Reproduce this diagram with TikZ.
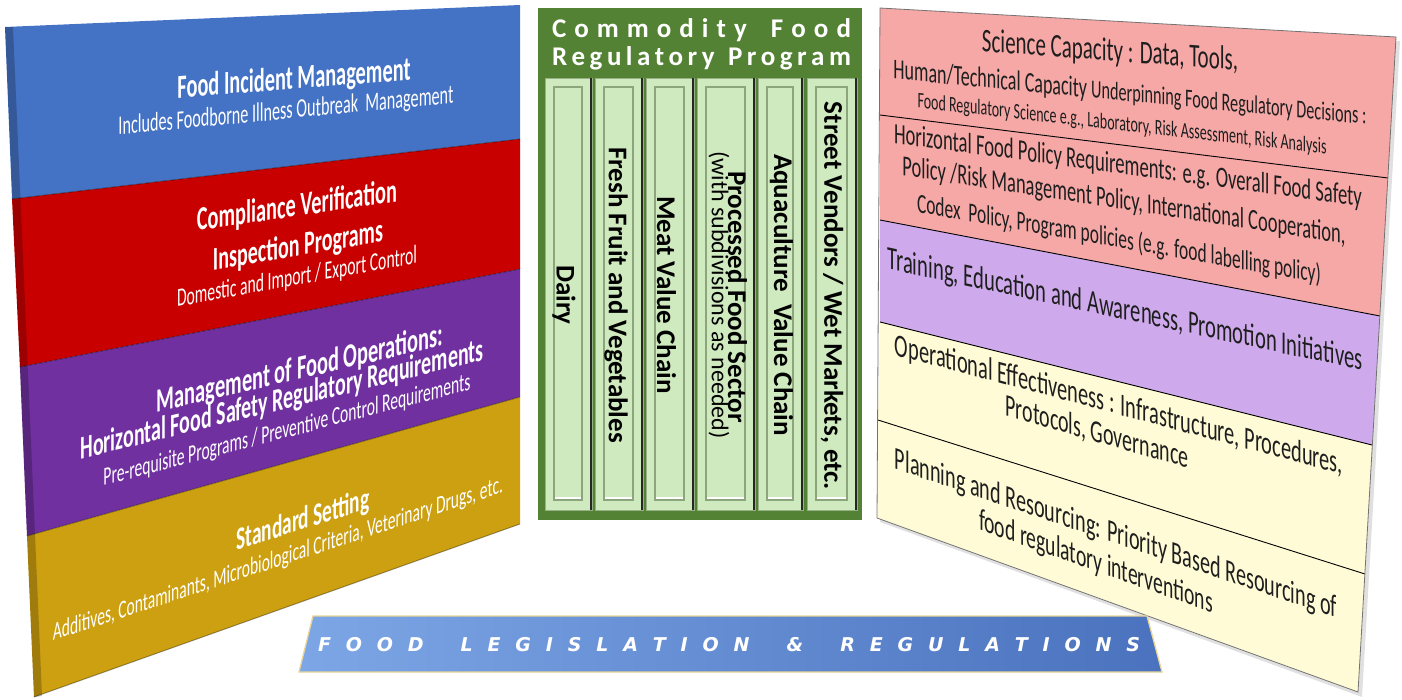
\documentclass[tikz,border=0pt]{standalone}
\usepackage{fontspec}
\usepackage{graphicx}
\setmainfont{Carlito}
\newfontfamily\banfont{DejaVu Sans}
\newcommand\fitw[2]{\resizebox{#1pt}{!}{#2}}
\newcommand\hf{\hfill}
\newcommand\wg{\hfill\hfill\hskip 0pt plus 0.5fill\relax}
\definecolor{lblue}{RGB}{68,114,196}
\definecolor{lred}{RGB}{200,0,0}
\definecolor{lpurple}{RGB}{112,48,160}
\definecolor{lgold}{RGB}{204,160,16}
\definecolor{cgreen}{RGB}{84,130,53}
\definecolor{cpale}{RGB}{208,234,192}
\definecolor{cedge}{RGB}{150,176,136}
\definecolor{cinner}{RGB}{140,165,125}
\definecolor{rpink}{RGB}{246,168,166}
\definecolor{rlav}{RGB}{206,170,236}
\definecolor{ryel}{RGB}{255,251,214}
\definecolor{rtxt}{RGB}{30,30,30}
\definecolor{bnl}{RGB}{125,166,230}
\definecolor{bnr}{RGB}{74,114,190}
\definecolor{bnedge}{RGB}{232,214,150}
\tikzset{
  ltext/.style={inner sep=0pt, text=white, yslant=#1, yscale=1.65},
  rtext/.style={inner sep=0pt, text=rtxt, yslant=-#1, yscale=1.58},
  coltxt/.style={rotate=-90, inner sep=0pt, text=black},
  sep/.style={black, line width=0.9pt},
}
\begin{document}
\begin{tikzpicture}[x=1pt,y=-1pt]
\useasboundingbox (0,0) rectangle (1402,699);

% ---------- left panel ----------
\fill[lblue]   (5,27) -- (520,5) -- (520,139) -- (12,199) -- cycle;
\fill[lred]    (12,199) -- (520,139) -- (520,269) -- (20,367) -- cycle;
\fill[lpurple] (20,367) -- (520,269) -- (520,397) -- (27,536) -- cycle;
\fill[lgold]   (27,536) -- (520,397) -- (520,524) -- (34,697) -- cycle;
\fill[black,opacity=.22] (5,27) -- (13,27) -- (42,696) -- (34,697) -- cycle;
\draw[black,opacity=.35,line width=1pt] (12,199) -- (520,139);
\draw[black,opacity=.35,line width=1pt] (20,367) -- (520,269);
\draw[black,opacity=.35,line width=1pt] (27,536) -- (520,397);
\draw[black,opacity=.35,line width=1pt] (34,697) -- (520,524);

\node[shift={(294,80)},  ltext=0.078] (l1)  {\fitw{233}{\bfseries Food Incident Management}};
\node[shift={(286,112)}, ltext=0.094] (l2)  {\fitw{335}{Includes Foodborne Illness Outbreak\ \ Management}};
\node[shift={(297,207)}, ltext=0.145] (l3)  {\fitw{200}{\bfseries Compliance Verification}};
\node[shift={(298,247)}, ltext=0.167] (l4)  {\fitw{170}{\bfseries Inspection Programs}};
\node[shift={(297,278)}, ltext=0.183] (l5)  {\fitw{240}{Domestic and Import / Export Control}};
\node[shift={(300,370)}, ltext=0.233] (l6)  {\fitw{286}{\bfseries Management of Food Operations:}};
\node[shift={(282,401)}, ltext=0.246] (l7)  {\fitw{403}{\bfseries Horizontal Food Safety Regulatory Requirements}};
\node[shift={(287,431)}, ltext=0.262] (l8)  {\fitw{367}{Pre-requisite Programs / Preventive Control Requirements}};
\node[shift={(303,521)}, ltext=0.314] (l9)  {\fitw{133}{\bfseries Standard Setting}};
\node[shift={(278,560)}, ltext=0.330] (l10) {\fitw{450}{Additives, Contaminants, Microbiological Criteria, Veterinary Drugs, etc.}};

% ---------- middle panel ----------
\fill[cgreen] (538,8) rectangle (862,520);
\node[text=white, inner sep=0pt, font=\bfseries\fontsize{27}{28}\selectfont] (m1) at (701.5,30)
  {\makebox[299pt][s]{C\hf o\hf m\hf m\hf o\hf d\hf i\hf t\hf y\hf\hf\hf F\hf o\hf o\hf d}};
\node[text=white, inner sep=0pt, font=\bfseries\fontsize{27}{28}\selectfont] (m2) at (701.5,58)
  {\makebox[299pt][s]{R\hf e\hf g\hf u\hf l\hf a\hf t\hf o\hf r\hf y\hf\hf\hf P\hf r\hf o\hf g\hf r\hf a\hf m}};
\foreach \a/\b in {545/592, 595/643, 646/694, 697/755, 758/803, 807/857}{
  \fill[cpale] (\a,78) rectangle (\b,510);
  \draw[cedge, line width=0.8pt] (\a,78) rectangle (\b,510);
  \fill[black!85] ({\b-2.2},78) rectangle (\b,510);
  \draw[cinner, line width=1.2pt] ({\a+9},87) rectangle ({\b-10},500);
  \draw[white, line width=1.5pt] ({\a+10},498) -- ({\b-11},498);
}
\node[coltxt, font=\bfseries\fontsize{27}{30}\selectfont] (c1) at (564,295) {Dairy};
\node[coltxt, font=\bfseries\fontsize{27}{30}\selectfont] (c2) at (616,295) {Fresh Fruit and Vegetables};
\node[coltxt, font=\bfseries\fontsize{27}{30}\selectfont] (c3) at (666.5,295) {Meat Value Chain};
\node[coltxt, font=\bfseries\fontsize{27}{30}\selectfont] (c4a) at (737.5,297) {Processed Food Sector};
\node[coltxt, font=\fontsize{24}{26}\selectfont] (c4b) at (719,295) {(with subdivisions as needed)};
\node[coltxt, font=\bfseries\fontsize{27}{30}\selectfont] (c5) at (781.5,295) {Aquaculture\ \ Value Chain};
\node[coltxt, font=\bfseries\fontsize{27}{30}\selectfont] (c6) at (832,296) {Street Vendors / Wet Markets, etc.};

% ---------- right panel ----------
\fill[black,opacity=.12] (883,12) -- (1400,41) -- (1362,697) -- (880,522) -- cycle;
\fill[rpink] (880,8) -- (1396,37) -- (1388,178) -- (880,115) -- cycle;
\fill[rpink] (880,115) -- (1388,178) -- (1380,316) -- (880,220) -- cycle;
\fill[rlav]  (880,220) -- (1380,316) -- (1372,445) -- (880,322) -- cycle;
\fill[ryel]  (880,322) -- (1372,445) -- (1365,574) -- (878,420) -- cycle;
\fill[ryel]  (878,420) -- (1365,574) -- (1358,692) -- (877,518) -- cycle;
\draw[sep] (880,115) -- (1388,178);
\draw[sep] (880,220) -- (1380,316);
\draw[sep] (880,322) -- (1372,445);
\draw[sep] (878,420) -- (1365,574);
\draw[black!55, line width=0.8pt] (880,8) -- (1396,37) -- (1358,692) -- (877,518) -- cycle;

\node[shift={(1110,52)},  rtext=0.074] (r1)  {\fitw{256}{Science Capacity : Data, Tools,}};
\node[shift={(1130,94)},  rtext=0.096] (r2)  {\fitw{473}{Human/Technical Capacity {\fontsize{9}{10}\selectfont Underpinning Food Regulatory Decisions :}}};
\node[shift={(1122,125)}, rtext=0.113] (r3)  {\fitw{409}{Food Regulatory Science e.g., Laboratory, Risk Assessment, Risk Analysis}};
\node[shift={(1128,167)}, rtext=0.135] (r4)  {\fitw{468}{Horizontal Food Policy Requirements: e.g. Overall Food Safety}};
\node[shift={(1124,202)}, rtext=0.155] (r5)  {\fitw{443}{Policy /Risk Management Policy, International Cooperation,}};
\node[shift={(1119,240)}, rtext=0.176] (r6)  {\fitw{404}{Codex\ \ Policy, Program policies (e.g. food labelling policy)}};
\node[shift={(1125,311)}, rtext=0.214] (r7)  {\fitw{475}{Training, Education and Awareness, Promotion Initiatives}};
\node[shift={(1119,406)}, rtext=0.266] (r8)  {\fitw{448}{Operational Effectiveness : Infrastructure, Procedures,}};
\node[shift={(1097,433)}, rtext=0.284] (r9)  {\fitw{183}{Protocols, Governance}};
\node[shift={(1116,535)}, rtext=0.337] (r10) {\fitw{442}{Planning and Resourcing: Priority Based Resourcing of}};
\node[shift={(1096,563)}, rtext=0.356] (r11) {\fitw{234}{food regulatory interventions}};

% ---------- bottom banner ----------
\shade[left color=bnl, right color=bnr] (313,616) -- (1147,616) -- (1162,672) -- (299,672) -- cycle;
\draw[bnedge, line width=1.3pt] (313,616) -- (1147,616) -- (1162,672) -- (299,672) -- cycle;
\node[text=white, inner sep=0pt, font=\banfont\bfseries\itshape\fontsize{19}{20}\selectfont] (ban) at (729,645)
  {\makebox[822pt][s]{F\hf O\hf O\hf D\wg L\hf E\hf G\hf I\hf S\hf L\hf A\hf T\hf I\hf O\hf N\wg \&\wg R\hf E\hf G\hf U\hf L\hf A\hf T\hf I\hf O\hf N\hf S}};
\end{tikzpicture}
\end{document}
